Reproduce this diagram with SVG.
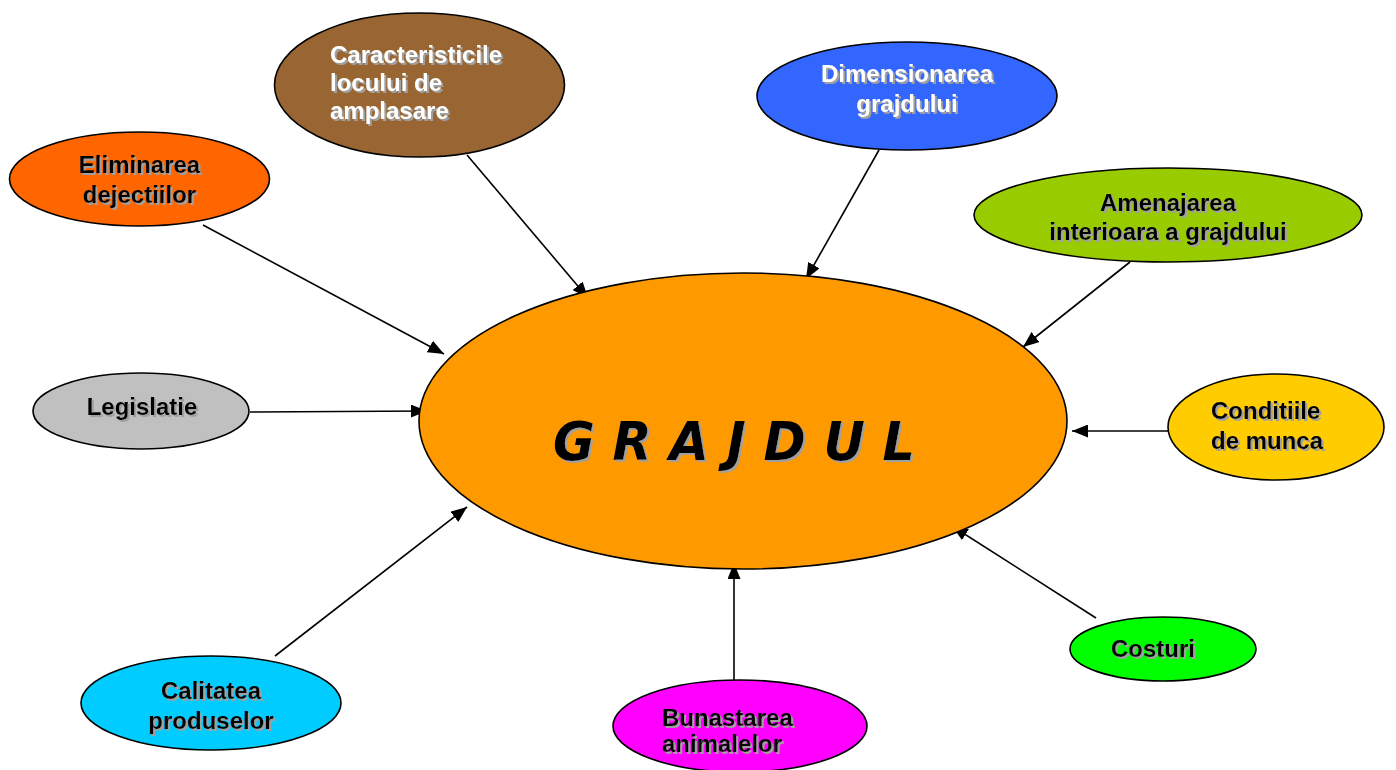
<svg xmlns="http://www.w3.org/2000/svg" width="1396" height="770" viewBox="0 0 1396 770">
<defs>
<filter id="sh" x="-10%" y="-20%" width="130%" height="150%">
<feOffset in="SourceAlpha" dx="1.5" dy="1.5" result="o"/>
<feFlood flood-color="#A0A0A0"/>
<feComposite in2="o" operator="in" result="s"/>
<feMerge><feMergeNode in="s"/><feMergeNode in="SourceGraphic"/></feMerge>
</filter>
<marker id="ah" markerWidth="16" markerHeight="13" refX="16" refY="6.5" orient="auto" markerUnits="userSpaceOnUse">
<path d="M0,0 L16,6.5 L0,13 Z" fill="#000"/>
</marker>
</defs>
<style>
ellipse{stroke:#000;stroke-width:1.6}
.t{font-family:"Liberation Sans",Arial,sans-serif;font-weight:bold;font-size:24px;fill:#000;filter:url(#sh)}
.c{text-anchor:middle}
.w{fill:#fff}
#connectors line{stroke:#000;stroke-width:1.6;marker-end:url(#ah)}
</style>
<rect width="1396" height="770" fill="#fff"/>
<g id="connectors">
<line x1="203" y1="225" x2="444" y2="354"/>
<line x1="467" y1="155" x2="588" y2="298"/>
<line x1="879" y1="150" x2="806" y2="279"/>
<line x1="1130" y1="262" x2="1023" y2="347"/>
<line x1="250" y1="412" x2="427" y2="411"/>
<line x1="1168" y1="431" x2="1072" y2="431"/>
<line x1="1096" y1="618" x2="952" y2="526"/>
<line x1="734" y1="680" x2="734" y2="563"/>
<line x1="275" y1="656" x2="467" y2="507"/>
</g>
<g id="grajdul">
<ellipse cx="743" cy="421" rx="324" ry="148" fill="#FF9900"/>
<text x="553" y="460" textLength="362" lengthAdjust="spacingAndGlyphs" style="font-family:'DejaVu Sans',sans-serif;font-weight:bold;font-style:italic;font-size:54px;fill:#000;filter:url(#sh)">G R A J D U L</text>
</g>
<g id="caracteristicile">
<ellipse cx="419.5" cy="85" rx="145" ry="72" fill="#996633"/>
<text class="t w" x="330" y="63">Caracteristicile<tspan x="330" y="91">locului de</tspan><tspan x="330" y="119">amplasare</tspan></text>
</g>
<g id="dimensionarea">
<ellipse cx="907" cy="96" rx="150" ry="54" fill="#3366FF"/>
<text class="t w c" x="907" y="82">Dimensionarea<tspan x="907" y="112">grajdului</tspan></text>
</g>
<g id="eliminarea">
<ellipse cx="139.5" cy="179" rx="130" ry="47" fill="#FF6600"/>
<text class="t c" x="139.5" y="173">Eliminarea<tspan x="139.5" y="203">dejectiilor</tspan></text>
</g>
<g id="amenajarea">
<ellipse cx="1168" cy="215" rx="194" ry="47" fill="#99CC00"/>
<text class="t c" x="1168" y="211">Amenajarea<tspan x="1168" y="240">interioara a grajdului</tspan></text>
</g>
<g id="legislatie">
<ellipse cx="141" cy="411" rx="108" ry="38" fill="#C0C0C0"/>
<text class="t c" x="142" y="415">Legislatie</text>
</g>
<g id="conditiile">
<ellipse cx="1276" cy="427" rx="108" ry="53" fill="#FFCC00"/>
<text class="t" x="1211" y="419">Conditiile<tspan x="1211" y="449">de munca</tspan></text>
</g>
<g id="costuri">
<ellipse cx="1163" cy="649" rx="93" ry="32" fill="#00FF00"/>
<text class="t c" x="1153" y="657">Costuri</text>
</g>
<g id="calitatea">
<ellipse cx="211" cy="703" rx="130" ry="47" fill="#00CCFF"/>
<text class="t c" x="211" y="699">Calitatea<tspan x="211" y="729">produselor</tspan></text>
</g>
<g id="bunastarea">
<ellipse cx="740" cy="726" rx="127" ry="46" fill="#FF00FF"/>
<text class="t" x="662" y="726">Bunastarea<tspan x="662" y="752">animalelor</tspan></text>
</g>
</svg>
